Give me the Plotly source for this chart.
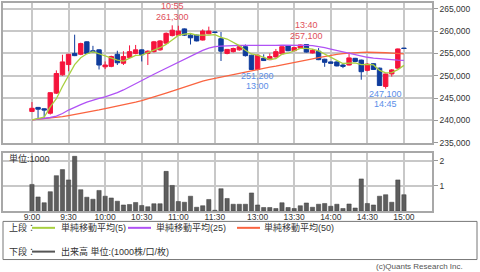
import plotly.graph_objects as go

# ---------------- data ----------------
times = ["9:00", "9:05", "9:10", "9:15", "9:20", "9:25", "9:30", "9:35", "9:40", "9:45",
         "9:50", "9:55", "10:00", "10:05", "10:10", "10:15", "10:20", "10:25", "10:30", "10:35",
         "10:40", "10:45", "10:50", "10:55", "11:00", "11:05", "11:10", "11:15", "11:20", "11:25",
         "11:30", "12:30", "12:35", "12:40", "12:45", "12:50", "12:55", "13:00", "13:05", "13:10",
         "13:15", "13:20", "13:25", "13:30", "13:35", "13:40", "13:45", "13:50", "13:55", "14:00",
         "14:05", "14:10", "14:15", "14:20", "14:25", "14:30", "14:35", "14:40", "14:45", "14:50",
         "14:55", "15:00"]

opens = [242000, 242900, 242600, 241600, 246100, 250200, 252500, 255000, 254800, 257600,
         255600, 255800, 252000, 252100, 254800, 252800, 254100, 255000, 255800, 255000,
         255400, 255800, 257300, 259000, 259100, 260500, 259100, 259100, 258000, 259400,
         259800, 258300, 255000, 255400, 255800, 256500, 254600, 251400, 253900, 253600,
         254200, 254900, 256700, 255600, 256200, 257000, 255100, 255500, 253700, 253100,
         253100, 252400, 252400, 253900, 253500, 251200, 252700, 251700, 247600, 250400,
         251700, 256200]
highs = [244100, 243000, 242700, 246300, 251200, 254700, 254900, 259200, 257400, 257700,
         256700, 255900, 253200, 254500, 255600, 255500, 256800, 256900, 255900, 255700,
         257800, 258000, 259700, 261300, 261200, 260600, 259500, 259200, 260400, 261000,
         259900, 259800, 256000, 256300, 256900, 257000, 254700, 254700, 254800, 255000,
         256000, 256600, 256800, 256400, 257000, 257100, 256000, 256200, 253800, 253200,
         253200, 252800, 255200, 254000, 253600, 252800, 252800, 251800, 250500, 251500,
         256100, 256200]
lows = [241900, 240200, 240400, 241300, 245900, 250000, 251000, 254400, 254600, 254900,
        255200, 251400, 251500, 251900, 252400, 252400, 254000, 254800, 253200, 252400,
        255200, 255600, 257100, 258800, 259000, 258900, 257000, 257700, 257900, 259300,
        259600, 253300, 254800, 255200, 255600, 254300, 251300, 251200, 253300, 253500,
        254100, 254800, 255500, 255500, 256100, 255200, 255000, 253500, 252000, 252700,
        252100, 251700, 252300, 253100, 249100, 251000, 251300, 247700, 247100, 249800,
        251500, 256100]
closes = [242700, 242500, 242300, 246200, 250500, 253100, 254800, 254500, 257200, 255000,
          255400, 252400, 252400, 254300, 252900, 254300, 255400, 255800, 254700, 255500,
          257600, 257800, 259500, 260200, 260000, 259100, 258500, 257800, 260000, 260000,
          259700, 255500, 255900, 256100, 256500, 254500, 251400, 254600, 253400, 254300,
          255400, 256500, 255600, 256300, 256900, 255300, 255700, 253600, 253000, 252800,
          252200, 252100, 254000, 253200, 250900, 252600, 251400, 247800, 250400, 251300,
          256000, 256100]

ma5 = [240120, 240350, 240700, 243000, 244840, 247600, 250200, 252500, 254020, 254920,
       255380, 254900, 254480, 253900, 253480, 253260, 253860, 254540, 254620, 255140,
       255800, 256280, 257020, 258120, 259020, 259320, 259460, 259120, 259080, 259080,
       259200, 258600, 258220, 257440, 256740, 255700, 254880, 254620, 254080, 253640,
       253820, 254840, 255040, 255620, 256140, 256120, 255960, 255560, 254900, 254080,
       253460, 252740, 252820, 252860, 252480, 252560, 252420, 251180, 250620, 250700,
       251380, 252320]
ma25 = [240120, 240280, 240460, 240640, 240970, 241530, 242310, 242980, 243530, 244090,
        244580, 244920, 245250, 245700, 246210, 246810, 247550, 248220, 248970, 249660,
        250330, 251000, 251670, 252340, 252940, 253610, 254280, 255010, 255660, 256170,
        256510, 256640, 256730, 256770, 256800, 256800, 256780, 256760, 256780, 256800,
        256820, 256850, 256860, 256880, 256860, 256790, 256730, 256570, 256280, 255970,
        255660, 255300, 254970, 254680, 254390, 254140, 253940, 253790, 253650, 253570,
        253500, 253450]
ma50 = [240120, 240240, 240350, 240460, 240590, 240820, 241080, 241310, 241570, 241820,
        242090, 242350, 242640, 242910, 243200, 243420, 243710, 244090, 244430, 244810,
        245210, 245650, 246100, 246540, 246990, 247480, 247950, 248370, 248770, 249110,
        249400, 249710, 250040, 250330, 250620, 250890, 251160, 251400, 251670, 251920,
        252160, 252410, 252670, 252920, 253190, 253500, 253790, 254080, 254350, 254570,
        254770, 254950, 255080, 255170, 255240, 255260, 255260, 255210, 255150, 255060,
        254970, 254880]

volume = [1.06, 0.56, 0.33, 0.77, 1.41, 1.65, 1.24, 2.18, 0.85, 0.55,
          0.47, 0.82, 0.59, 0.52, 0.39, 0.24, 0.26, 0.34, 0.22, 0.17,
          0.29, 0.29, 1.58, 1.02, 0.38, 0.35, 0.59, 0.15, 0.21, 0.46,
          0.03, 0.89, 0.50, 0.27, 0.27, 0.27, 0.72, 0.24, 0.14, 0.14,
          0.10, 0.33, 0.14, 0.10, 0.21, 0.32, 0.15, 0.27, 0.30, 0.19,
          0.27, 0.10, 0.28, 0.12, 1.28, 0.30, 0.24, 0.59, 0.65, 0.35,
          1.24, 0.65]

tick_times = ["9:00", "9:30", "10:00", "10:30", "11:00", "11:30",
              "13:00", "13:30", "14:00", "14:30", "15:00"]
price_ticks = [235000, 240000, 245000, 250000, 255000, 260000, 265000]
vol_ticks = [1, 2]
high_marks = ["10:55", "13:40"]
low_marks = ["13:00", "14:45"]
legend_upper = ["単純移動平均(5)", "単純移動平均(25)", "単純移動平均(50)"]
legend_lower = "出来高 単位:(1000株/口/枚)"

# ---------------- styling / layout ----------------
W, H = 480, 272
ML, MR, MT, MB = 3, 48, 1, 61
PW = W - ML - MR
PH = H - MT - MB


def px(x):
    return (x - ML) / PW


def py(y):
    return (H - MB - y) / PH


RED = "#f5143c"
BLUE = "#0f3c9c"
C5 = "#a8d040"
C25 = "#b052f5"
C50 = "#fa6440"
GRID = "#c8c8c8"
FRAME = "#a8a8a8"
FONT = "Liberation Sans, Noto Sans CJK JP, sans-serif"

fig = go.Figure()
fig.add_trace(go.Candlestick(
    x=times, open=opens, high=highs, low=lows, close=closes,
    increasing=dict(line=dict(color=RED, width=1), fillcolor=RED),
    decreasing=dict(line=dict(color=BLUE, width=1), fillcolor=BLUE),
    whiskerwidth=0, xaxis="x", yaxis="y", showlegend=False, hoverinfo="skip"))
for vals, col in ((ma50, C50), (ma25, C25), (ma5, C5)):
    fig.add_trace(go.Scatter(x=times, y=vals, mode="lines",
                             line=dict(color=col, width=1.3),
                             xaxis="x", yaxis="y", showlegend=False, hoverinfo="skip"))
fig.add_trace(go.Bar(x=times, y=volume, width=0.7,
                     marker=dict(color="#5e5e5e", line=dict(color="#3c3c3c", width=0.5)),
                     xaxis="x2", yaxis="y2", showlegend=False, hoverinfo="skip"))

xcommon = dict(type="category", categoryorder="array", categoryarray=times,
               range=[-4.75, 65.6], tickmode="array", tickvals=tick_times,
               showgrid=True, gridcolor=GRID, gridwidth=1.5,
               showline=True, mirror=True, linecolor=FRAME, linewidth=1.5,
               zeroline=False, ticks="", fixedrange=True)
ycommon = dict(side="right", showgrid=True, gridcolor=GRID, gridwidth=1.5,
               showline=True, mirror=True, linecolor=FRAME, linewidth=1.5,
               zeroline=False, ticks="outside", ticklen=4, tickcolor="#999999",
               tickfont=dict(size=8.5, color="#333333", family=FONT), fixedrange=True)

annotations = []
for t in high_marks:
    i = times.index(t)
    for txt, sh in ((f"{highs[i]:,}", 8.5), (t, 19.5)):
        annotations.append(dict(x=t, y=highs[i], xref="x", yref="y", text=txt,
                                showarrow=False, yanchor="middle", yshift=sh,
                                font=dict(size=9, color="#e0505a", family=FONT)))
for t in low_marks:
    i = times.index(t)
    for txt, sh in ((f"{lows[i]:,}", -5.5), (t, -15.5)):
        annotations.append(dict(x=t, y=lows[i], xref="x", yref="y", text=txt,
                                showarrow=False, yanchor="middle", yshift=sh,
                                font=dict(size=9, color="#5a8ee8", family=FONT)))

small = dict(size=9, color="#333333", family=FONT)
annotations.append(dict(x=px(7), y=py(157.5), xref="paper", yref="paper", text="単位:1000",
                        showarrow=False, xanchor="left", yanchor="middle", font=small))

shapes = [dict(type="rect", xref="paper", yref="paper",
               x0=px(3), x1=px(477), y0=py(221.5), y1=py(260),
               line=dict(color="#777777", width=1), fillcolor="rgba(0,0,0,0)")]

row1, row2 = 228, 252
annotations.append(dict(x=px(7), y=py(row1), xref="paper", yref="paper", text="上段：",
                        showarrow=False, xanchor="left", yanchor="middle", font=small))
annotations.append(dict(x=px(7), y=py(row2), xref="paper", yref="paper", text="下段：",
                        showarrow=False, xanchor="left", yanchor="middle", font=small))
for (lx0, tx), lab, col in zip([(32, 59), (128, 154), (237, 262)], legend_upper, [C5, C25, C50]):
    shapes.append(dict(type="line", xref="paper", yref="paper",
                       x0=px(lx0), x1=px(lx0 + 23), y0=py(row1), y1=py(row1),
                       line=dict(color=col, width=2)))
    annotations.append(dict(x=px(tx), y=py(row1), xref="paper", yref="paper", text=lab,
                            showarrow=False, xanchor="left", yanchor="middle", font=small))
shapes.append(dict(type="line", xref="paper", yref="paper",
                   x0=px(32), x1=px(55), y0=py(row2), y1=py(row2),
                   line=dict(color="#555555", width=2)))
annotations.append(dict(x=px(59), y=py(row2), xref="paper", yref="paper", text=legend_lower,
                        showarrow=False, xanchor="left", yanchor="middle", font=small))
annotations.append(dict(x=px(465), y=py(267), xref="paper", yref="paper",
                        text="(c)Quants Research Inc.", showarrow=False,
                        xanchor="right", yanchor="middle",
                        font=dict(size=8, color="#555555", family=FONT)))

fig.update_layout(
    width=W, height=H,
    margin=dict(l=ML, r=MR, t=MT, b=MB, pad=0),
    paper_bgcolor="white", plot_bgcolor="white",
    showlegend=False, boxgap=0.15, boxgroupgap=0.15,
    font=dict(family=FONT, size=8.5, color="#333333"),
    xaxis=dict(**xcommon, anchor="y", showticklabels=False,
               rangeslider=dict(visible=False)),
    xaxis2=dict(**xcommon, anchor="y2", matches="x", showticklabels=True,
                ticklabelstandoff=-3,
                tickfont=dict(size=8.5, color="#333333", family=FONT)),
    yaxis=dict(**ycommon, domain=[(H - MB - 142) / PH, 1],
               range=[235000, 266300], tickvals=price_ticks, tickformat=",d"),
    yaxis2=dict(**ycommon, domain=[0, (H - MB - 152) / PH],
                range=[0, 2.33], tickvals=vol_ticks),
    annotations=annotations, shapes=shapes,
)

fig.write_html("out.html")
